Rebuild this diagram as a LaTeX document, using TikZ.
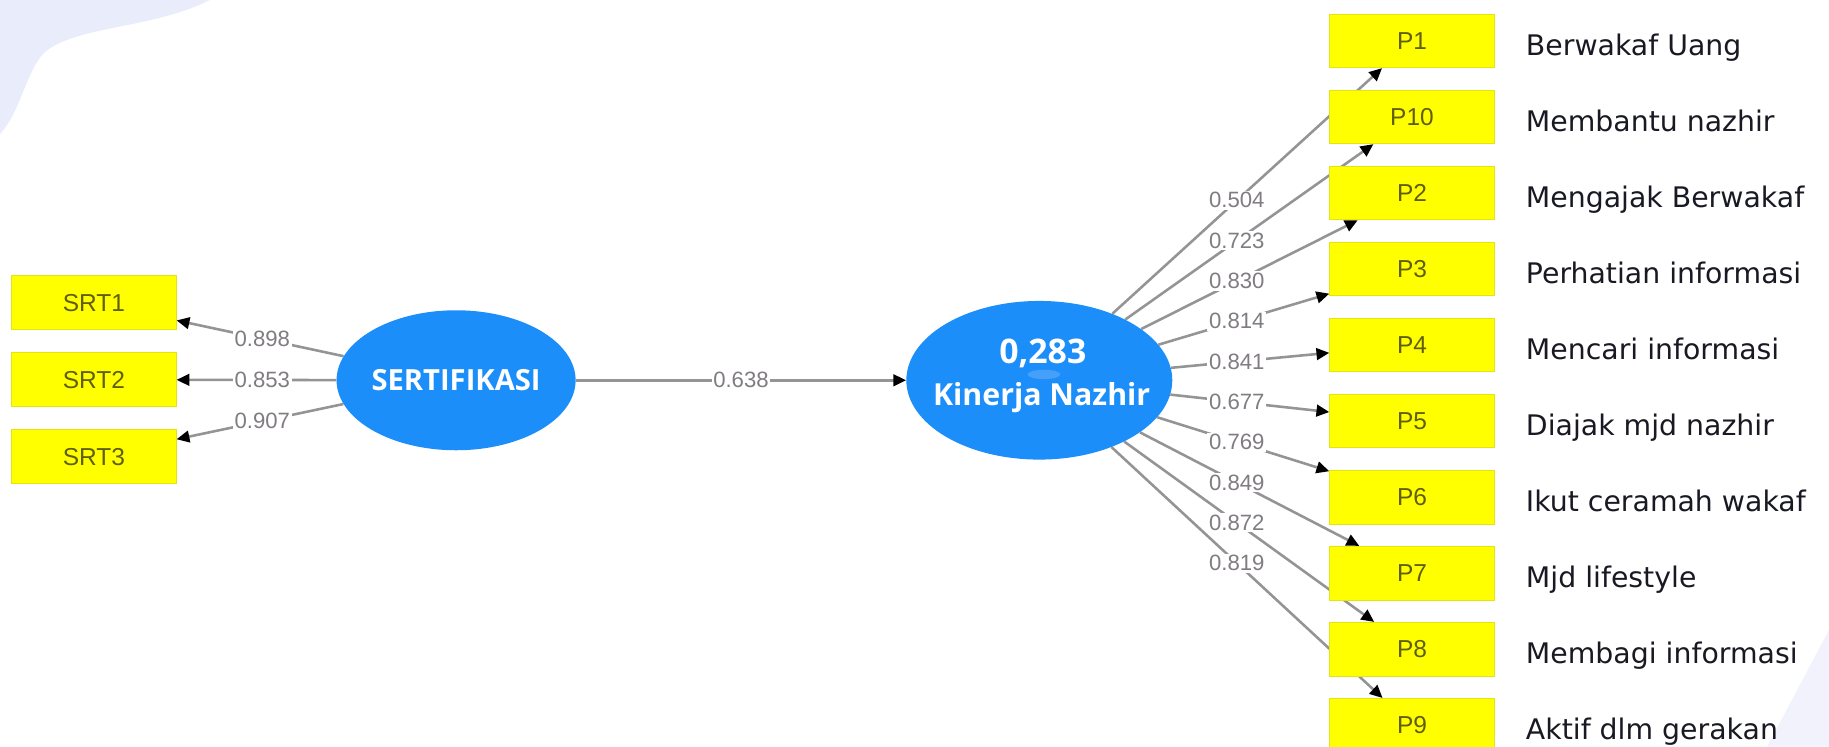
\documentclass[tikz,border=0pt]{standalone}
\usepackage{fontspec}
\setmainfont{DejaVu Sans}
\newfontfamily\numfont{Liberation Sans}
\newfontfamily\ellfont{Open Sans}
\usetikzlibrary{arrows.meta,backgrounds,calc,shapes.geometric}
\definecolor{indyellow}{RGB}{255,255,0}
\definecolor{indedge}{RGB}{228,228,20}
\definecolor{indtext}{RGB}{95,95,10}
\definecolor{latblue}{RGB}{28,142,250}
\definecolor{linegray}{RGB}{148,148,148}
\definecolor{coefgray}{RGB}{128,124,130}
\definecolor{desctext}{RGB}{25,25,35}
\definecolor{lavender}{RGB}{233,236,250}
\definecolor{lavlight}{RGB}{241,242,251}
\definecolor{smudge}{RGB}{70,160,250}
\begin{document}
\begin{tikzpicture}[x=1pt,y=-1pt,
  ind/.style={rectangle, fill=indyellow, draw=indedge, line width=0.8pt,
    minimum width=141pt, minimum height=46pt, inner sep=0pt,
    font=\numfont\fontsize{21}{21}\selectfont, text=indtext},
  lat/.style={ellipse, fill=latblue, inner sep=0pt, text=white, align=center},
  link/.style={draw=linegray, line width=2.2pt,
    -{Triangle[length=11pt,width=10pt,color=black]}},
  coef/.style={fill=white, inner sep=1.5pt,
    font=\numfont\fontsize{19}{19}\selectfont, text=coefgray},
  desc/.style={anchor=base west, inner sep=0pt,
    font=\fontsize{24.3}{28}\selectfont, text=desctext}]
\useasboundingbox (0,0) rectangle (1568,640);

% latent variables
\node[lat, minimum width=204pt, minimum height=120pt] (sert) at (391,326)
  {\ellfont\bfseries\fontsize{25}{28}\selectfont SERTIFIKASI};
\node[lat, minimum width=228pt, minimum height=136pt] (kin) at (891,326) {};
\fill[smudge] (895,321) ellipse (14 and 4);
\node[text=white, inner sep=0pt] (r2) at (894,303)
  {\ellfont\bfseries\fontsize{29}{30}\selectfont 0,283};
\node[text=white, inner sep=0pt] (kname) at (893,341)
  {\ellfont\bfseries\fontsize{26}{28}\selectfont Kinerja Nazhir};

% indicators of SERTIFIKASI
\node[ind] (srt1) at (80.5,259.5) {SRT1};
\node[ind] (srt2) at (80.5,325.5) {SRT2};
\node[ind] (srt3) at (80.5,391.5) {SRT3};

% indicators of Kinerja Nazhir
\node[ind] (p1)  at (1210.5,35)    {P1};
\node[ind] (p10) at (1210.5,100.2) {P10};
\node[ind] (p2)  at (1210.5,165.4) {P2};
\node[ind] (p3)  at (1210.5,230.6) {P3};
\node[ind] (p4)  at (1210.5,295.8) {P4};
\node[ind] (p5)  at (1210.5,361)   {P5};
\node[ind] (p6)  at (1210.5,426.2) {P6};
\node[ind] (p7)  at (1210.5,491.4) {P7};
\node[ind] (p8)  at (1210.5,556.6) {P8};
\node[ind] (p9)  at (1210.5,621.8) {P9};

% descriptions
\node[desc] (d1)  at (1308,48)    {Berwakaf Uang};
\node[desc] (d10) at (1308,113.1) {Membantu nazhir};
\node[desc] (d2)  at (1308,178.2) {Mengajak Berwakaf};
\node[desc] (d3)  at (1308,243.3) {Perhatian informasi};
\node[desc] (d4)  at (1308,308.4) {Mencari informasi};
\node[desc] (d5)  at (1308,373.5) {Diajak mjd nazhir};
\node[desc] (d6)  at (1308,438.6) {Ikut ceramah wakaf};
\node[desc] (d7)  at (1308,503.7) {Mjd lifestyle};
\node[desc] (d8)  at (1308,568.8) {Membagi informasi};
\node[desc] (d9)  at (1308,633.9) {Aktif dlm gerakan};

% background decoration and connectors behind the boxes
\begin{scope}[on background layer]
  \fill[lavender] (0,0) -- (180,0) .. controls (130,25) and (65,22) .. (38,45)
    .. controls (22,62) and (18,95) .. (0,115) -- cycle;
  \fill[lavlight] (1568,540) -- (1568,640) -- (1515,640) -- cycle;
  \draw[link] (sert) -- (kin);
  \draw[link] (sert) -- (srt1);
  \draw[link] (sert) -- (srt2);
  \draw[link] (sert) -- (srt3);
  \draw[link] (kin) -- (p1);
  \draw[link] (kin) -- (p10);
  \draw[link] (kin) -- (p2);
  \draw[link] (kin) -- (p3);
  \draw[link] (kin) -- (p4);
  \draw[link] (kin) -- (p5);
  \draw[link] (kin) -- (p6);
  \draw[link] (kin) -- (p7);
  \draw[link] (kin) -- (p8);
  \draw[link] (kin) -- (p9);
\end{scope}

% coefficients
\node[coef] (c0) at ($(sert.east)!0.5!(kin.west)$) {0.638};
\node[coef] (cs1) at ($(sert.center)!0.535!(srt1.center)$) {0.898};
\node[coef] (cs2) at ($(sert.center)!0.535!(srt2.center)$) {0.853};
\node[coef] (cs3) at ($(sert.center)!0.535!(srt3.center)$) {0.907};
\node[coef] (cp1)  at ($(kin.center)!0.53!(p1.center)$)  {0.504};
\node[coef] (cp10) at ($(kin.center)!0.53!(p10.center)$) {0.723};
\node[coef] (cp2)  at ($(kin.center)!0.53!(p2.center)$)  {0.830};
\node[coef] (cp3)  at ($(kin.center)!0.53!(p3.center)$)  {0.814};
\node[coef] (cp4)  at ($(kin.center)!0.53!(p4.center)$)  {0.841};
\node[coef] (cp5)  at ($(kin.center)!0.53!(p5.center)$)  {0.677};
\node[coef] (cp6)  at ($(kin.center)!0.53!(p6.center)$)  {0.769};
\node[coef] (cp7)  at ($(kin.center)!0.53!(p7.center)$)  {0.849};
\node[coef] (cp8)  at ($(kin.center)!0.53!(p8.center)$)  {0.872};
\node[coef] (cp9)  at ($(kin.center)!0.53!(p9.center)$)  {0.819};
\end{tikzpicture}
\end{document}
